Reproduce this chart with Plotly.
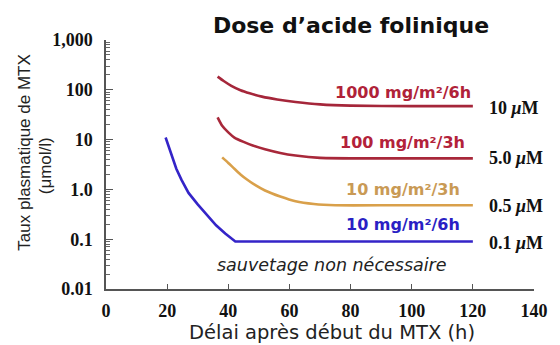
import math
import plotly.graph_objects as go

# ---- data ----
x_1000 = [36.5, 38.5, 41, 44, 47, 51, 56, 62, 70, 80, 100, 120]
y_1000 = [184, 150, 120, 98, 85, 73, 64, 57, 51, 48, 47, 47]

x_100 = [36.5, 38, 40, 42, 45, 48, 52, 57, 62, 70, 90, 120]
y_100 = [28, 19, 14, 11, 9.0, 7.6, 6.4, 5.4, 4.8, 4.3, 4.2, 4.2]

x_10_3h = [38, 40, 42, 44, 46, 49, 52, 57, 62, 68, 75, 95, 120]
y_10_3h = [4.4, 3.4, 2.6, 2.0, 1.6, 1.2, 0.95, 0.72, 0.58, 0.51, 0.48, 0.48, 0.48]

x_10_6h = [19.5, 20.5, 21.5, 23, 24.7, 27, 30, 33, 36, 39, 42.3, 120]
y_10_6h = [11, 7.2, 4.5, 2.6, 1.55, 0.85, 0.5, 0.3, 0.19, 0.13, 0.09, 0.09]

series_names = ["1000 mg/m²/6h", "100 mg/m²/3h", "10 mg/m²/3h", "10 mg/m²/6h"]
threshold_labels = ["10 ", "5.0 ", "0.5 ", "0.1 "]

x_tickvals = [0, 20, 40, 60, 80, 100, 120, 140]
x_ticktext = ["0", "20", "40", "60", "80", "100", "120", "140"]
y_tickvals = [0.01, 0.1, 1, 10, 100, 1000]
y_ticktext = ["0.01", "0.1", "1.0", "10", "100", "1,000"]
y_minor = [m * 10 ** e for e in range(-2, 3) for m in range(2, 10)]

colors = ["#a5263a", "#a8283a", "#d9a04a", "#3424c8"]
label_colors = ["#b02238", "#b3223a", "#c99a55", "#2a1fc4"]

# label anchor positions (data coords)
label_x = 97
label_y = [88, 8.6, 1.0, 0.2]
thr_x = 124.5
thr_y = [44, 4.3, 0.46, 0.082]

fig = go.Figure()
shapes = ["spline", "spline", "spline", "linear"]
for xs, ys, c, sh in zip([x_1000, x_100, x_10_3h, x_10_6h],
                         [y_1000, y_100, y_10_3h, y_10_6h], colors, shapes):
    fig.add_trace(go.Scatter(x=xs, y=ys, mode="lines",
                             line=dict(color=c, width=2.6, shape=sh,
                                       **({"smoothing": 0.6} if sh == "spline" else {})),
                             showlegend=False, hoverinfo="skip"))

serif = "Liberation Serif"
sans = "DejaVu Sans"

ann = []
for name, ly, lc in zip(series_names, label_y, label_colors):
    ann.append(dict(x=label_x, y=math.log10(ly), yref="y", xref="x", text="<b>" + name + "</b>",
                    showarrow=False, font=dict(family=sans, size=16, color=lc),
                    xanchor="center", yanchor="middle"))
for t, ty in zip(threshold_labels, thr_y):
    ann.append(dict(x=thr_x, y=math.log10(ty), xref="x", yref="y",
                    text="<b>" + t + "<i>μ</i>M</b>", showarrow=False,
                    font=dict(family=serif, size=18, color="#111"),
                    xanchor="left", yanchor="middle"))
ann.append(dict(x=74, y=math.log10(0.03), xref="x", yref="y", text="<i>sauvetage non nécessaire</i>",
                showarrow=False, font=dict(family=sans, size=17.5, color="#222"),
                xanchor="center", yanchor="middle"))
# axis titles
W, H = 560, 345
l, t, pw, ph = 106, 40, 437, 249
def px(xp):
    return (xp - l) / pw
def py(yp):
    return (t + ph - yp) / ph
ann.append(dict(x=px(337), y=py(332), xref="paper", yref="paper",
                text="Délai après début du MTX (h)", showarrow=False,
                font=dict(family=sans, size=19.5, color="#222"),
                xanchor="center", yanchor="middle"))
ann.append(dict(x=px(22), y=py(152), xref="paper", yref="paper",
                text="Taux plasmatique de MTX", showarrow=False, textangle=-90,
                font=dict(family="Liberation Sans", size=17, color="#222"),
                xanchor="center", yanchor="middle"))
ann.append(dict(x=px(44), y=py(166), xref="paper", yref="paper",
                text="(μmol/l)", showarrow=False, textangle=-90,
                font=dict(family="Liberation Sans", size=17, color="#222"),
                xanchor="center", yanchor="middle"))

fig.update_layout(
    width=W, height=H,
    margin=dict(l=l, r=W - l - pw, t=t, b=H - t - ph, pad=0),
    paper_bgcolor="white", plot_bgcolor="white",
    title=dict(text="<b>Dose d’acide folinique</b>", x=351 / W, xref="container",
               xanchor="center", y=1 - 25 / H, yref="container", yanchor="middle",
               font=dict(family=sans, size=22, color="#111")),
    annotations=ann,
)
fig.update_xaxes(range=[0, 140], tickvals=x_tickvals, ticktext=["<b>" + s + "</b>" for s in x_ticktext],
                 ticks="inside", ticklen=5, tickcolor="#555", tickwidth=1.2,
                 showline=True, linecolor="#555", linewidth=1.5, showgrid=False, zeroline=False,
                 tickfont=dict(family=serif, size=18, color="#111"), ticklabelstandoff=5)
fig.update_yaxes(type="log", range=[-2, 3], tickvals=y_tickvals, ticktext=["<b>" + s + "</b>" for s in y_ticktext],
                 ticks="inside", ticklen=7, tickcolor="#555", tickwidth=1.2,
                 minor=dict(tickvals=y_minor, ticks="inside", ticklen=4, tickcolor="#666", tickwidth=1),
                 showline=True, linecolor="#555", linewidth=1.5, showgrid=False, zeroline=False,
                 tickfont=dict(family=serif, size=18, color="#111"), ticklabelstandoff=8)

fig.write_html("out.html", config={"displayModeBar": False},
               post_script="document.body.style.margin='0';document.body.style.overflow='hidden';")
